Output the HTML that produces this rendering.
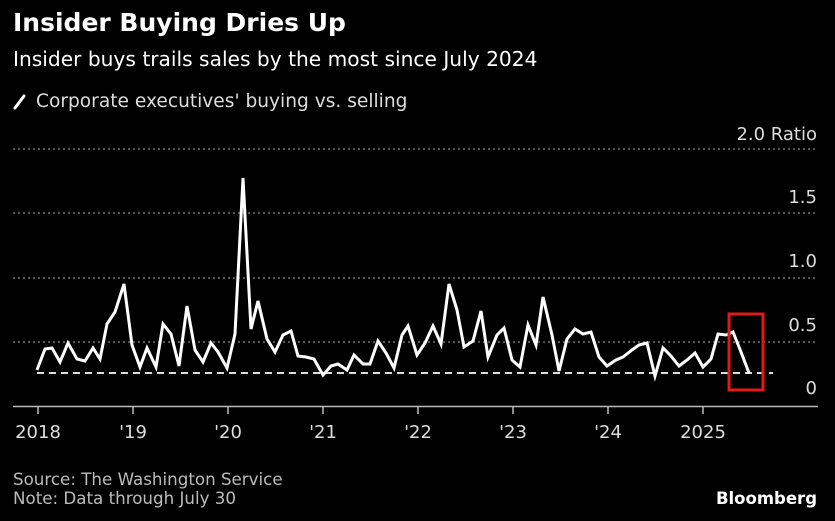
<!DOCTYPE html>
<html><head><meta charset="utf-8"><style>
html,body{margin:0;padding:0;background:#000;}
body{width:835px;height:517px;overflow:hidden;font-family:"DejaVu Sans",sans-serif;color:#fff;}
</style></head><body>
<svg width="835" height="517" viewBox="0 0 835 517" xmlns="http://www.w3.org/2000/svg" font-family="DejaVu Sans, sans-serif">
<rect width="835" height="517" fill="#000"/>
<text x="13" y="31" font-size="25" font-weight="bold" fill="#fff">Insider Buying Dries Up</text>
<text x="13" y="66" font-size="20.2" fill="#fff">Insider buys trails sales by the most since July 2024</text>
<line x1="15" y1="108" x2="24" y2="96" stroke="#fff" stroke-width="3" stroke-linecap="round"/>
<text x="36" y="107" font-size="18.6" fill="#ddd">Corporate executives' buying vs. selling</text>
<g font-size="18" fill="#ddd" text-anchor="end">
<text x="817" y="140">2.0 Ratio</text>
<text x="817" y="203">1.5</text>
<text x="817" y="267">1.0</text>
<text x="817" y="331">0.5</text>
<text x="817" y="394">0</text>
</g>
<g stroke="#888" stroke-width="1.2" stroke-dasharray="2,3">
<line x1="13" y1="149" x2="818" y2="149"/>
<line x1="13" y1="213" x2="818" y2="213"/>
<line x1="13" y1="278" x2="818" y2="278"/>
<line x1="13" y1="342" x2="818" y2="342"/>
</g>
<line x1="13" y1="406.5" x2="818" y2="406.5" stroke="#bbb" stroke-width="1.5"/>
<g stroke="#bbb" stroke-width="1.5">
<line x1="38" y1="406" x2="38" y2="414"/><line x1="133" y1="406" x2="133" y2="414"/>
<line x1="228" y1="406" x2="228" y2="414"/><line x1="323" y1="406" x2="323" y2="414"/>
<line x1="418" y1="406" x2="418" y2="414"/><line x1="513" y1="406" x2="513" y2="414"/>
<line x1="608" y1="406" x2="608" y2="414"/><line x1="703" y1="406" x2="703" y2="414"/>
</g>
<g font-size="18" fill="#ddd" text-anchor="middle">
<text x="38" y="438">2018</text><text x="133" y="438">'19</text><text x="228" y="438">'20</text>
<text x="323" y="438">'21</text><text x="418" y="438">'22</text><text x="513" y="438">'23</text>
<text x="608" y="438">'24</text><text x="703" y="438">2025</text>
</g>
<line x1="37" y1="373" x2="773" y2="373" stroke="#ddd" stroke-width="2" stroke-dasharray="7,5"/>
<polyline fill="none" stroke="#fff" stroke-width="3" stroke-linejoin="miter" points="37,370 45,349 52,348 60,362 68,343 77,359 85,361 93,348 100,359 107,324 115,312 124,284 132,345 140,367 147,348 156,367 163,324 171,334 179,366 187,306 195,350 203,362 211,343 218,352 227,368 235,334 243,178 251,329 258,301 267,339 275,352 283,335 291,331 298,356 306,357 314,359 323,375 331,366 338,364 347,370 354,355 363,364 370,364 378,341 386,353 394,368 402,335 408,326 417,355 425,343 433,326 441,344 449,284 457,310 464,347 473,341 481,311 488,357 497,335 504,328 512,360 520,367 528,325 536,345 543,297 552,335 559,371 567,339 575,329 583,334 591,332 599,357 607,366 616,360 623,357 632,350 639,345 647,343 655,376 663,348 671,356 679,366 687,360 695,353 703,367 711,359 718,334 726,335 733,332 741,352 749,373"/>
<rect x="729" y="314" width="34" height="76" fill="none" stroke="#e0191b" stroke-width="3"/>
<text x="13" y="485" font-size="16.7" fill="#bbb">Source: The Washington Service</text>
<text x="13" y="504" font-size="16.7" fill="#bbb">Note: Data through July 30</text>
<text x="817" y="504" font-size="16.5" font-weight="bold" fill="#fff" text-anchor="end">Bloomberg</text>
</svg>
</body></html>
